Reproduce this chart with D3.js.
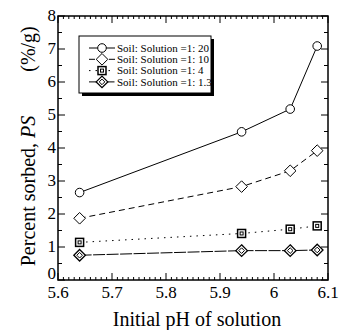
<!DOCTYPE html>
<html>
<head>
<meta charset="utf-8">
<script src="https://cdn.jsdelivr.net/npm/d3@7"></script>
<style>
  body { margin: 0; background: white; }
</style>
</head>
<body>
<div id="chart"></div>
<script>
// data
const phValues = [5.64, 5.94, 6.03, 6.08];
const ratio20 = [2.65, 4.49, 5.18, 7.09];
const ratio10 = [1.87, 2.83, 3.31, 3.92];
const ratio4 = [1.14, 1.41, 1.54, 1.64];
const ratio13 = [0.75, 0.89, 0.89, 0.91];
const seriesNames = ["Soil: Solution =1: 20", "Soil: Solution =1: 10", "Soil: Solution =1: 4", "Soil: Solution =1: 1.3"];
const xTickValues = [5.6, 5.7, 5.8, 5.9, 6.0, 6.1];
const yTickValues = [0, 1, 2, 3, 4, 5, 6, 7, 8];

const width = 340, height = 330;
const plotLeft = 58, plotRight = 328, plotTop = 16, plotBottom = 280;

const svg = d3.select('#chart').append('svg')
  .attr('width', width).attr('height', height)
  .attr('font-family', "'Times New Roman', 'Liberation Serif', 'DejaVu Serif', serif");

const x = d3.scaleLinear().domain([5.6, 6.1]).range([plotLeft, plotRight]);
const y = d3.scaleLinear().domain([0, 8]).range([plotBottom, plotTop]);

// frame
svg.append('rect')
  .attr('x', plotLeft).attr('y', plotTop)
  .attr('width', plotRight - plotLeft).attr('height', plotBottom - plotTop)
  .attr('fill', 'none').attr('stroke', 'black').attr('stroke-width', 1.5);

// ticks (inward, all four sides)
const minorX = d3.range(5.6, 6.1001, 0.01);
const minorY = d3.range(0, 8.001, 0.5);
const tickG = svg.append('g').attr('stroke', 'black').attr('stroke-width', 1);
for (const v of minorX) {
  const major = Math.abs(v * 10 - Math.round(v * 10)) < 1e-6;
  const len = major ? 7 : 3;
  tickG.append('line').attr('x1', x(v)).attr('x2', x(v)).attr('y1', plotBottom).attr('y2', plotBottom - len);
  tickG.append('line').attr('x1', x(v)).attr('x2', x(v)).attr('y1', plotTop).attr('y2', plotTop + len);
}
for (const v of minorY) {
  const major = Math.abs(v - Math.round(v)) < 1e-6;
  const len = major ? 7 : 4;
  tickG.append('line').attr('y1', y(v)).attr('y2', y(v)).attr('x1', plotLeft).attr('x2', plotLeft + len);
  tickG.append('line').attr('y1', y(v)).attr('y2', y(v)).attr('x1', plotRight).attr('x2', plotRight - len);
}

// tick labels
svg.append('g').selectAll('text').data(xTickValues).enter().append('text')
  .attr('x', d => x(d)).attr('y', plotBottom + 18)
  .attr('text-anchor', 'middle').attr('font-size', 17)
  .text(d => d3.format('~g')(d));
svg.append('g').selectAll('text').data(yTickValues).enter().append('text')
  .attr('x', plotLeft - 2).attr('y', d => y(d) + (d === 0 ? -1 : 5))
  .attr('text-anchor', 'end').attr('font-size', 17)
  .text(d => d);

// axis titles
svg.append('text')
  .attr('x', 197).attr('y', 326)
  .attr('text-anchor', 'middle').attr('font-size', 20)
  .text('Initial pH of solution');

const yTitle = svg.append('text')
  .attr('transform', `translate(35,191) rotate(-90)`)
  .attr('text-anchor', 'middle').attr('font-size', 20);
yTitle.append('tspan').text('Percent sorbed, ');
yTitle.append('tspan').attr('font-style', 'italic').text('PS');
svg.append('text')
  .attr('transform', `translate(35,49) rotate(-90)`)
  .attr('text-anchor', 'middle').attr('font-size', 20)
  .text('(%/g)');

// series
const series = [
  {values: ratio20, dash: null, marker: 'circle'},
  {values: ratio10, dash: '6,4', marker: 'diamond'},
  {values: ratio4, dash: '1.5,5', marker: 'square'},
  {values: ratio13, dash: '12,1.5', marker: 'ddiamond'}
];

function drawMarker(g, type, cx, cy) {
  if (type === 'circle') {
    g.append('circle').attr('cx', cx).attr('cy', cy).attr('r', 4.3)
      .attr('fill', 'white').attr('stroke', 'black').attr('stroke-width', 1);
  } else if (type === 'diamond') {
    const s = 5.8;
    g.append('path').attr('d', `M${cx},${cy - s}L${cx + s},${cy}L${cx},${cy + s}L${cx - s},${cy}Z`)
      .attr('fill', 'white').attr('stroke', 'black').attr('stroke-width', 1);
  } else if (type === 'square') {
    g.append('rect').attr('x', cx - 4).attr('y', cy - 4).attr('width', 8).attr('height', 8)
      .attr('fill', 'white').attr('stroke', 'black').attr('stroke-width', 1.5);
    g.append('rect').attr('x', cx - 1.5).attr('y', cy - 1.5).attr('width', 3).attr('height', 3)
      .attr('fill', 'white').attr('stroke', 'black').attr('stroke-width', 1);
  } else {
    const s = 5.8, t = 2.8;
    g.append('path').attr('d', `M${cx},${cy - s}L${cx + s},${cy}L${cx},${cy + s}L${cx - s},${cy}Z`)
      .attr('fill', 'white').attr('stroke', 'black').attr('stroke-width', 1.3);
    g.append('path').attr('d', `M${cx},${cy - t}L${cx + t},${cy}L${cx},${cy + t}L${cx - t},${cy}Z`)
      .attr('fill', 'white').attr('stroke', 'black').attr('stroke-width', 1);
  }
}

const line = d3.line().x((d, i) => x(phValues[i])).y(d => y(d));
for (const s of series) {
  svg.append('path').datum(s.values)
    .attr('fill', 'none').attr('stroke', 'black').attr('stroke-width', 1)
    .attr('stroke-dasharray', s.dash)
    .attr('d', line);
  const g = svg.append('g');
  s.values.forEach((v, i) => drawMarker(g, s.marker, x(phValues[i]), y(v)));
}

// legend
const lx = 79, ly = 36, lw = 132, lh = 57;
svg.append('rect').attr('x', lx + 3).attr('y', ly + 3).attr('width', lw).attr('height', lh).attr('fill', 'black');
svg.append('rect').attr('x', lx).attr('y', ly).attr('width', lw).attr('height', lh)
  .attr('fill', 'white').attr('stroke', 'black').attr('stroke-width', 1);
series.forEach((s, i) => {
  const yy = ly + 12 + i * 11.3;
  svg.append('line').attr('x1', lx + 10).attr('x2', lx + 36).attr('y1', yy).attr('y2', yy)
    .attr('stroke', 'black').attr('stroke-width', 1).attr('stroke-dasharray', s.dash);
  const g = svg.append('g');
  drawMarker(g, s.marker, lx + 23, yy);
  svg.append('text').attr('x', lx + 38).attr('y', yy + 3.8)
    .attr('font-size', 11).text(seriesNames[i]);
});
</script>
</body>
</html>
